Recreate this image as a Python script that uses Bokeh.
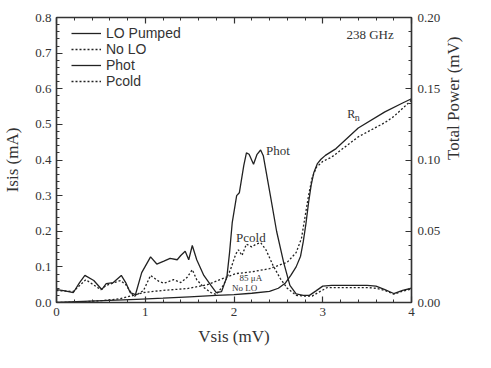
import math
from bokeh.plotting import figure
from bokeh.models import (Range1d, LinearAxis, Legend, LegendItem, PrintfTickFormatter,
                          SingleIntervalTicker, Label, CustomJSTickFormatter)
from bokeh.embed import file_html
from bokeh.resources import INLINE

# ---------------- data ----------------
# IV curve, solid (legend: "LO Pumped") - left axis, mA
iv_solid_v = [0.0, 0.3, 0.6, 0.9, 1.2, 1.5, 1.8, 2.0, 2.2, 2.4, 2.5, 2.58, 2.64, 2.70, 2.75,
              2.78, 2.81, 2.84, 2.87, 2.90, 2.94, 2.98, 3.03, 3.15, 3.4, 3.7, 3.9, 4.0]
iv_solid_i = [0.0, 0.003, 0.006, 0.009, 0.012, 0.016, 0.020, 0.022, 0.026, 0.031, 0.040, 0.055,
              0.076, 0.100, 0.130, 0.170, 0.220, 0.280, 0.330, 0.365, 0.390, 0.402, 0.413,
              0.432, 0.490, 0.535, 0.560, 0.572]
# IV curve, dotted (legend: "No LO") - left axis, mA
iv_dot_v = [0.0, 0.3, 0.5, 0.7, 0.87, 0.98, 1.2, 1.47, 1.7, 1.85, 2.02, 2.22, 2.4, 2.6, 2.7,
            2.76, 2.80, 2.84, 2.88, 2.93, 3.0, 3.1, 3.4, 3.7, 3.8, 3.9, 4.0]
iv_dot_i = [0.0, 0.002, 0.005, 0.010, 0.020, 0.028, 0.034, 0.039, 0.050, 0.065, 0.081, 0.087,
            0.095, 0.113, 0.140, 0.180, 0.240, 0.300, 0.350, 0.380, 0.396, 0.408, 0.465,
            0.505, 0.522, 0.545, 0.568]
# IF power, hot load (solid) - right axis, mV
phot_v = [0.0, 0.08, 0.19, 0.26, 0.32, 0.42, 0.51, 0.56, 0.64, 0.73, 0.78, 0.83, 0.89, 0.96,
          1.06, 1.13, 1.21, 1.28, 1.36, 1.40, 1.45, 1.49, 1.53, 1.58, 1.66, 1.74, 1.80, 1.86,
          1.92, 1.95, 1.98, 2.03, 2.06, 2.11, 2.14, 2.17, 2.22, 2.26, 2.30, 2.33, 2.41, 2.48,
          2.56, 2.63, 2.70, 2.78, 2.85, 2.92, 3.0, 3.1, 3.3, 3.5, 3.6, 3.7, 3.8, 3.9, 4.0]
phot_p = [0.0091, 0.0084, 0.0070, 0.0140, 0.0190, 0.0154, 0.0091, 0.0133, 0.0140, 0.0190,
          0.0140, 0.0070, 0.0056, 0.0210, 0.0320, 0.0270, 0.0290, 0.0310, 0.0300, 0.0330,
          0.0360, 0.0300, 0.0400, 0.0300, 0.0190, 0.0120, 0.0070, 0.0077, 0.0180, 0.0350,
          0.0560, 0.0750, 0.0770, 0.0960, 0.1050, 0.1040, 0.0970, 0.1040, 0.1070, 0.1030,
          0.0750, 0.0500, 0.0280, 0.0120, 0.0060, 0.0050, 0.0050, 0.0080, 0.0115, 0.0120,
          0.0120, 0.0120, 0.0115, 0.0090, 0.0063, 0.0085, 0.0100]
# IF power, cold load (dotted) - right axis, mV
pcold_v = [0.0, 0.19, 0.33, 0.5, 0.56, 0.72, 0.78, 0.87, 0.98, 1.06, 1.15, 1.21, 1.32, 1.40,
           1.47, 1.53, 1.58, 1.66, 1.74, 1.80, 1.88, 1.96, 2.02, 2.05, 2.09, 2.14, 2.20, 2.25,
           2.30, 2.36, 2.44, 2.52, 2.60, 2.70, 2.80, 2.88, 2.95, 3.05, 3.3, 3.5, 3.6, 3.7,
           3.8, 3.9, 4.0]
pcold_p = [0.0084, 0.0077, 0.0160, 0.0090, 0.0120, 0.0154, 0.0126, 0.0040, 0.0084, 0.0190,
           0.0150, 0.0135, 0.0160, 0.0140, 0.0175, 0.0230, 0.0160, 0.0105, 0.0070, 0.0056,
           0.0120, 0.0230, 0.0340, 0.0370, 0.0330, 0.0410, 0.0390, 0.0410, 0.0420, 0.0370,
           0.0260, 0.0170, 0.0100, 0.0050, 0.0045, 0.0045, 0.0070, 0.0105, 0.0105, 0.0105,
           0.0100, 0.0085, 0.0058, 0.0080, 0.0095]

legend_labels = ["LO Pumped", "No LO", "Phot", "Pcold"]

# ---------------- styling ----------------
SERIF = "Liberation Serif"
SANS = "Liberation Sans"
INK = "#222222"
AX = "#333333"

p = figure(frame_width=355, frame_height=285,
           x_range=Range1d(0, 4), y_range=Range1d(0, 0.8),
           output_backend="svg", toolbar_location=None,
           min_border_left=55, min_border_right=65, min_border_top=17, min_border_bottom=50)
p.extra_y_ranges = {"power": Range1d(0, 0.2)}
p.xgrid.visible = False
p.ygrid.visible = False
p.outline_line_color = AX
p.outline_line_width = 1.2
p.background_fill_color = "white"
p.border_fill_color = "white"

bottom = p.below[0]
left = p.left[0]
right = LinearAxis(y_range_name="power")
top = LinearAxis()
p.add_layout(right, "right")
p.add_layout(top, "above")

def style(ax, interval):
    ax.ticker = SingleIntervalTicker(interval=interval, num_minor_ticks=5)
    ax.major_tick_in = 6
    ax.major_tick_out = 0
    ax.minor_tick_in = 3
    ax.minor_tick_out = 0
    ax.axis_line_width = 1.5
    ax.axis_line_color = AX
    ax.major_tick_line_color = AX
    ax.minor_tick_line_color = AX
    ax.major_tick_line_width = 1.2
    ax.minor_tick_line_width = 1
    ax.major_label_text_font = SERIF
    ax.major_label_text_font_size = "13px"
    ax.major_label_text_color = AX
    ax.axis_label_text_font = SERIF
    ax.axis_label_text_font_size = "17px"
    ax.axis_label_text_font_style = "normal"
    ax.axis_label_text_color = AX

style(bottom, 1)
style(top, 1)
style(left, 0.1)
style(right, 0.05)

top.formatter = CustomJSTickFormatter(code="return ''")
top.major_label_standoff = 0

bottom.axis_label = "Vsis (mV)"
bottom.major_label_standoff = 5
bottom.axis_label_standoff = 8
left.axis_label = "Isis (mA)"
left.formatter = PrintfTickFormatter(format="%.1f")
left.major_label_standoff = 5
left.axis_label_standoff = 10
right.axis_label = "Total Power (mV)"
right.formatter = PrintfTickFormatter(format="%.2f")
right.major_label_standoff = 6
right.axis_label_standoff = 10
try:
    right.axis_label_orientation = math.pi / 2
except Exception:
    pass

r1 = p.line(iv_solid_v, iv_solid_i, line_color=INK, line_width=1.3)
r2 = p.line(iv_dot_v, iv_dot_i, line_color=INK, line_width=1.3, line_dash="2 2")
r3 = p.line(phot_v, phot_p, line_color=INK, line_width=1.3, y_range_name="power")
r4 = p.line(pcold_v, pcold_p, line_color=INK, line_width=1.3, line_dash="2 2",
            y_range_name="power")

legend = Legend(items=[LegendItem(label=lab, renderers=[r]) for lab, r in
                       zip(legend_labels, [r1, r2, r3, r4])],
                location=(15, 213), padding=0, margin=0, spacing=0,
                glyph_width=30, glyph_height=16, label_height=16, label_standoff=5,
                label_text_font=SANS, label_text_font_size="14px", label_text_color=AX,
                border_line_color=None, background_fill_alpha=0)
p.add_layout(legend)

def note(x, y, text, size, align="center"):
    p.add_layout(Label(x=x, y=y, text=text, text_font=SERIF, text_font_size=size,
                       text_align=align, text_baseline="middle", text_color=AX))

note(3.8, 0.752, "238 GHz", "13px", "right")
note(2.36, 0.428, "Phot", "13px", "left")
note(2.19, 0.183, "Pcold", "13px")
note(2.19, 0.07, "85 μA", "9px")
note(2.12, 0.04, "No LO", "9px")
note(3.32, 0.530, "R", "12px")
note(3.39, 0.518, "n", "10px")

open("out.html", "w").write(file_html(p, INLINE))
